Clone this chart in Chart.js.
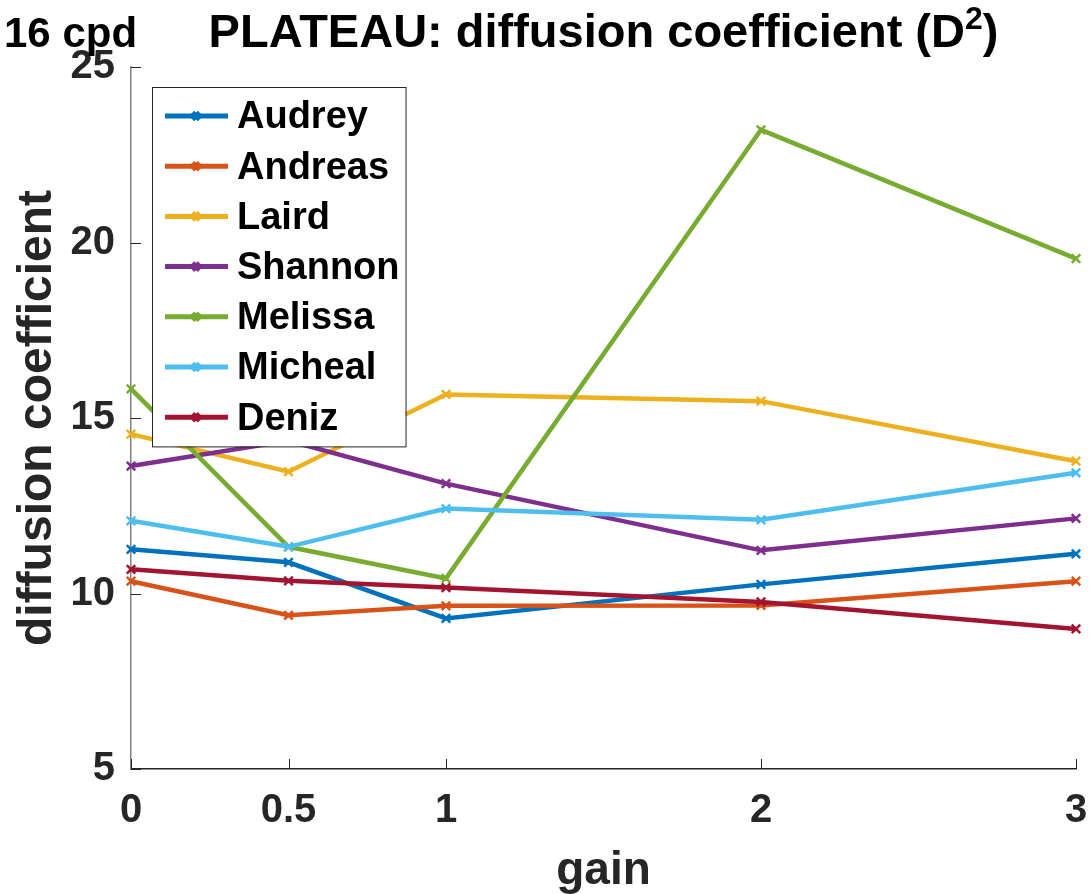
<!DOCTYPE html>
<html>
<head>
<meta charset="utf-8">
<title>PLATEAU: diffusion coefficient</title>
<script src="https://cdn.jsdelivr.net/npm/chart.js@4.4.0/dist/chart.umd.min.js"></script>
<style>
  html, body { margin: 0; padding: 0; background: #fff; }
</style>
</head>
<body>
<canvas id="plateau-chart" width="1089" height="894"></canvas>
<script>
// gain values on the x axis and the y tick values
const gains = [0, 0.5, 1, 2, 3];
const yTickValues = [5, 10, 15, 20, 25];

// diffusion coefficient per observer, one value per gain
const audrey  = [11.26, 10.89, 9.29, 10.26, 11.13];
const andreas = [10.35, 9.38, 9.65, 9.66, 10.35];
const laird   = [14.54, 13.47, 15.67, 15.48, 13.77];
const shannon = [13.63, 14.35, 13.13, 11.23, 12.14];
const melissa = [15.83, 11.33, 10.43, 23.21, 19.54];
const micheal = [12.07, 11.33, 12.42, 12.10, 13.44];
const deniz   = [10.69, 10.36, 10.17, 9.76, 8.99];

const observers = ["Audrey", "Andreas", "Laird", "Shannon", "Melissa", "Micheal", "Deniz"];
const seriesValues = [audrey, andreas, laird, shannon, melissa, micheal, deniz];
const lineColors = ["#0072BD", "#D95319", "#EDB120", "#7E2F8E", "#77AC30", "#4DBEEE", "#A2142F"];

const FONT = "'Liberation Sans', Arial, Helvetica, sans-serif";
Chart.defaults.font.family = FONT;

// build one line dataset per observer
const datasets = observers.map((name, i) => ({
    label: name,
    data: gains.map((g, j) => ({ x: g, y: seriesValues[i][j] })),
    borderColor: lineColors[i],
    backgroundColor: lineColors[i],
    borderWidth: 4.5,
    pointStyle: 'crossRot',
    pointRadius: 6,
    pointBorderWidth: 2.5,
    pointHoverRadius: 6,
    tension: 0,
    fill: false,
    clip: false,
    order: observers.length - i // later observers drawn on top
}));

// titles above the plot
const headerPlugin = {
    id: 'header',
    afterDraw(chart) {
        const ctx = chart.ctx;
        const area = chart.chartArea;
        ctx.save();
        ctx.fillStyle = '#000';
        ctx.textBaseline = 'alphabetic';

        ctx.font = `bold 42px ${FONT}`;
        ctx.textAlign = 'left';
        ctx.fillText('16 cpd', 4, 47);

        // main title with a superscript 2
        const main = 'PLATEAU: diffusion coefficient (D';
        ctx.font = `bold 47px ${FONT}`;
        const wMain = ctx.measureText(main).width;
        const wClose = ctx.measureText(')').width;
        ctx.font = `bold 32px ${FONT}`;
        const wSup = ctx.measureText('2').width;
        const total = wMain + wSup + wClose;
        let x = (area.left + area.right) / 2 - total / 2;
        ctx.font = `bold 47px ${FONT}`;
        ctx.fillText(main, x, 47);
        x += wMain;
        ctx.font = `bold 32px ${FONT}`;
        ctx.fillText('2', x, 29);
        x += wSup;
        ctx.font = `bold 47px ${FONT}`;
        ctx.fillText(')', x, 47);
        ctx.restore();
    }
};

// inward tick marks on both axes
const innerTicksPlugin = {
    id: 'innerTicks',
    afterDraw(chart) {
        const ctx = chart.ctx;
        const xs = chart.scales.x;
        const ys = chart.scales.y;
        const area = chart.chartArea;
        ctx.save();
        ctx.strokeStyle = '#262626';
        ctx.lineWidth = 1;
        ctx.beginPath();
        yTickValues.forEach(v => {
            const py = Math.round(ys.getPixelForValue(v)) + 0.5;
            ctx.moveTo(area.left, py);
            ctx.lineTo(area.left + 10, py);
        });
        gains.forEach(v => {
            const px = Math.round(xs.getPixelForValue(v)) + 0.5;
            ctx.moveTo(px, area.bottom);
            ctx.lineTo(px, area.bottom - 10);
        });
        ctx.stroke();
        ctx.restore();
    }
};

// boxed legend in the upper left of the plot
const boxLegendPlugin = {
    id: 'boxLegend',
    afterDatasetsDraw(chart) {
        const ctx = chart.ctx;
        const area = chart.chartArea;
        const sets = chart.data.datasets;
        const left = area.left + 21;
        const top = area.top + 20;
        const rowH = 50.2;

        ctx.save();
        ctx.font = `bold 38px ${FONT}`;
        const textW = Math.max(...sets.map(d => ctx.measureText(d.label).width));
        const width = 85 + textW + 6;
        const height = rowH * sets.length + 8;

        ctx.fillStyle = '#fff';
        ctx.fillRect(left, top, width, height);
        ctx.strokeStyle = '#262626';
        ctx.lineWidth = 1;
        ctx.strokeRect(left + 0.5, top + 0.5, width, height);

        sets.forEach((d, i) => {
            const cy = top + 29 + i * rowH;
            ctx.strokeStyle = d.borderColor;
            ctx.lineWidth = 5;
            ctx.beginPath();
            ctx.moveTo(left + 13, cy);
            ctx.lineTo(left + 76, cy);
            ctx.stroke();
            Chart.helpers.drawPoint(ctx, {
                pointStyle: 'crossRot',
                radius: 5,
                borderWidth: 2
            }, left + 44, cy);

            ctx.fillStyle = '#000';
            ctx.textAlign = 'left';
            ctx.textBaseline = 'middle';
            ctx.fillText(d.label, left + 85, cy + 2);
        });
        ctx.restore();
    }
};

const ctx = document.getElementById('plateau-chart').getContext('2d');
const plateauChart = new Chart(ctx, {
    type: 'line',
    data: { datasets },
    options: {
        responsive: false,
        animation: false,
        events: [],
        layout: { padding: { top: 67, right: 13, left: 0, bottom: 0 } },
        plugins: {
            legend: { display: false },
            title: { display: false },
            tooltip: { enabled: false }
        },
        scales: {
            x: {
                type: 'linear',
                min: 0,
                max: 3,
                afterBuildTicks: scale => { scale.ticks = gains.map(v => ({ value: v })); },
                afterFit: scale => {
                    scale.height = 125;
                    scale.paddingLeft = 0;
                    scale.paddingRight = 0;
                },
                grid: { display: false, drawTicks: false },
                border: { display: true, color: '#262626', width: 1.5 },
                ticks: {
                    color: '#262626',
                    padding: 22,
                    maxRotation: 0,
                    autoSkip: false,
                    font: { size: 40, weight: 'bold', lineHeight: 1 },
                    callback: v => String(v)
                },
                title: {
                    display: true,
                    text: 'gain',
                    color: '#262626',
                    padding: { top: 0, bottom: 0 },
                    font: { size: 46, weight: 'bold', lineHeight: 1 }
                }
            },
            y: {
                min: 5,
                max: 25,
                afterBuildTicks: scale => { scale.ticks = yTickValues.map(v => ({ value: v })); },
                afterFit: scale => {
                    scale.width = 131;
                    scale.paddingTop = 0;
                    scale.paddingBottom = 0;
                },
                grid: { display: false, drawTicks: false },
                border: { display: true, color: '#808080', width: 1.5 },
                ticks: {
                    color: '#262626',
                    padding: 16,
                    font: { size: 40, weight: 'bold', lineHeight: 1 }
                },
                title: {
                    display: true,
                    text: 'diffusion coefficient',
                    color: '#262626',
                    padding: { top: 14, bottom: 0 },
                    font: { size: 48, weight: 'bold', lineHeight: 1 }
                }
            }
        }
    },
    plugins: [headerPlugin, innerTicksPlugin, boxLegendPlugin]
});
</script>
</body>
</html>
